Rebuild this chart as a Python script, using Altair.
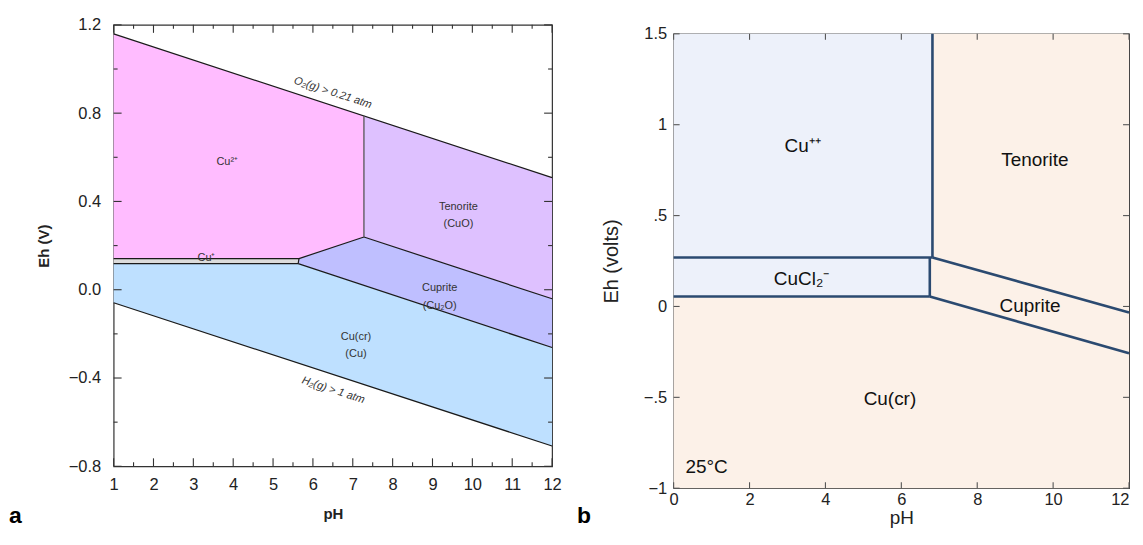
import altair as alt
import pandas as pd

FONT = "Liberation Sans"

# ------------------------------------------------------------------ panel a values
a_ph_domain = [1, 12]
a_eh_domain = [-0.8, 1.2]
a_x_major = [1, 2, 3, 4, 5, 6, 7, 8, 9, 10, 11, 12]
a_x_minor = [1.5, 2.5, 3.5, 4.5, 5.5, 6.5, 7.5, 8.5, 9.5, 10.5, 11.5]
a_y_major = [-0.8, -0.4, 0.0, 0.4, 0.8, 1.2]
a_y_minor = [-0.6, -0.2, 0.2, 0.6, 1.0]

# stability fields: pH breakpoints, upper Eh, lower Eh
a_cu2_ph = [1, 5.65, 7.28]
a_cu2_top = [1.159, 0.884, 0.788]
a_cu2_bot = [0.141, 0.141, 0.239]
a_cup_ph = [1, 5.63, 5.65]
a_cup_top = [0.141, 0.141, 0.141]
a_cup_bot = [0.118, 0.118, 0.138]
a_ten_ph = [7.28, 12]
a_ten_top = [0.788, 0.508]
a_ten_bot = [0.239, -0.041]
a_cpr_ph = [5.63, 5.65, 7.28, 12]
a_cpr_top = [0.119, 0.141, 0.239, -0.041]
a_cpr_bot = [0.118, 0.117, 0.020, -0.262]
a_cu_ph = [1, 5.63, 12]
a_cu_top = [0.118, 0.118, -0.262]
a_cu_bot = [-0.059, -0.333, -0.708]

# boundary lines
a_o2_ph, a_o2_eh = [1, 12], [1.159, 0.508]
a_h2_ph, a_h2_eh = [1, 12], [-0.059, -0.708]
a_b1_ph, a_b1_eh = [7.28, 7.28], [0.788, 0.239]
a_b2_ph, a_b2_eh = [5.65, 7.28], [0.141, 0.239]
a_b3_ph, a_b3_eh = [7.28, 12], [0.239, -0.041]
a_b4_ph, a_b4_eh = [5.63, 12], [0.118, -0.262]
a_b5_ph, a_b5_eh = [1, 5.65], [0.141, 0.141]
a_b6_ph, a_b6_eh = [1, 5.63], [0.118, 0.118]
a_b7_ph, a_b7_eh = [5.63, 5.65], [0.118, 0.141]

a_lab_text = ["Cu²⁺", "Cu⁺", "Tenorite", "(CuO)", "Cuprite", "(Cu₂O)", "Cu(cr)", "(Cu)"]
a_lab_ph = [3.85, 3.33, 9.65, 9.65, 9.18, 9.18, 7.08, 7.08]
a_lab_eh = [0.578, 0.145, 0.375, 0.298, 0.009, -0.072, -0.212, -0.289]
a_gas_text = ["O₂(g) > 0.21 atm", "H₂(g) > 1 atm"]
a_gas_ph = [6.5, 6.51]
a_gas_eh = [0.892, -0.456]

# ------------------------------------------------------------------ panel b values
b_ph_domain = [0, 12]
b_eh_domain = [-1, 1.5]
b_x_major = [0, 2, 4, 6, 8, 10, 12]
b_y_major = [-1, -0.5, 0, 0.5, 1, 1.5]
b_y_labels = ["−1", "−.5", "0", ".5", "1", "1.5"]

b_cupp_ph, b_cupp_top, b_cupp_bot = [0, 6.82], [1.5, 1.5], [0.269, 0.269]
b_cucl_ph, b_cucl_top, b_cucl_bot = [0, 6.75], [0.269, 0.269], [0.055, 0.055]
b_ten_ph, b_ten_top, b_ten_bot = [6.82, 12], [1.5, 1.5], [0.269, -0.033]
b_cpr_ph, b_cpr_top, b_cpr_bot = [6.75, 6.82, 12], [0.269, 0.269, -0.033], [0.055, 0.051, -0.258]
b_cu_ph, b_cu_top, b_cu_bot = [0, 6.75, 12], [0.055, 0.055, -0.258], [-1, -1, -1]

b_l1_ph, b_l1_eh = [0, 6.82], [0.269, 0.269]
b_l2_ph, b_l2_eh = [0, 6.75], [0.055, 0.055]
b_l3_ph, b_l3_eh = [6.82, 6.82], [0.269, 1.5]
b_l4_ph, b_l4_eh = [6.75, 6.75], [0.055, 0.269]
b_l5_ph, b_l5_eh = [6.82, 12], [0.269, -0.033]
b_l6_ph, b_l6_eh = [6.75, 12], [0.055, -0.258]

b_lab_text = ["Cu⁺⁺", "Tenorite", "CuCl₂⁻", "Cuprite", "Cu(cr)"]
b_lab_ph = [3.40, 9.52, 3.37, 9.39, 5.70]
b_lab_eh = [0.883, 0.806, 0.150, 0.0, -0.51]
b_temp_text = ["25°C"]
b_temp_ph = [0.31]
b_temp_eh = [-0.883]

# ------------------------------------------------------------------ styles
A_W, A_H = 440, 443
B_W, B_H = 457, 456
a_fill = {"Cu2+": "#FFBCFF", "Cu+": "#DCDCDC", "Tenorite": "#DEC1FF",
          "Cuprite": "#BFBFFF", "Cu": "#BEE0FF"}
b_fill = {"Cu++": "#EDF1FA", "CuCl2-": "#EDF1FA", "Tenorite": "#FCF1E8",
          "Cuprite": "#FCF1E8", "Cu": "#FCF1E8"}


def regions(items):
    rows = []
    for name, ph, top, bot in items:
        for p, t, b in zip(ph, top, bot):
            rows.append({"region": name, "ph": p, "top": t, "bot": b})
    return pd.DataFrame(rows)


def segments(items):
    rows = []
    for k, (ph, eh) in enumerate(items):
        for i, (p, e) in enumerate(zip(ph, eh)):
            rows.append({"seg": k, "i": i, "ph": p, "eh": e})
    return pd.DataFrame(rows)


def labels(text, ph, eh):
    return pd.DataFrame({"label": text, "ph": ph, "eh": eh})


# ------------------------------------------------------------------ panel a
a_xscale = alt.Scale(domain=a_ph_domain, nice=False, zero=False)
a_yscale = alt.Scale(domain=a_eh_domain, nice=False, zero=False)
a_xaxis = alt.Axis(values=a_x_major, format="d", ticks=False, tickSize=0, domain=False, grid=False,
                   labelFlush=False, labelOverlap=False,
                   labelFont=FONT, labelFontSize=16.5, labelColor="#222", labelPadding=10.5,
                   title="pH", titleFont=FONT, titleFontSize=15, titleFontWeight="bold",
                   titleColor="#222", titlePadding=13)
a_yaxis = alt.Axis(values=a_y_major, format=".1f", ticks=False, tickSize=0, domain=False, grid=False,
                   labelOverlap=False,
                   labelFont=FONT, labelFontSize=16.5, labelColor="#222", labelPadding=13,
                   title="Eh (V)", titleFont=FONT, titleFontSize=15, titleFontWeight="bold",
                   titleColor="#222", titlePadding=17)


def ax(field):
    return alt.X(f"{field}:Q", scale=a_xscale, axis=a_xaxis)


def ay(field):
    return alt.Y(f"{field}:Q", scale=a_yscale, axis=a_yaxis, stack=None)


a_reg = regions([
    ("Cu2+", a_cu2_ph, a_cu2_top, a_cu2_bot),
    ("Cu+", a_cup_ph, a_cup_top, a_cup_bot),
    ("Tenorite", a_ten_ph, a_ten_top, a_ten_bot),
    ("Cuprite", a_cpr_ph, a_cpr_top, a_cpr_bot),
    ("Cu", a_cu_ph, a_cu_top, a_cu_bot),
])
a_areas = alt.Chart(a_reg).mark_area(opacity=1, interpolate="linear").encode(
    x=ax("ph"), y=ay("top"), y2="bot",
    color=alt.Color("region:N", scale=alt.Scale(domain=list(a_fill), range=list(a_fill.values())),
                    legend=None),
)
a_seg = segments([(a_o2_ph, a_o2_eh), (a_h2_ph, a_h2_eh), (a_b2_ph, a_b2_eh),
                  (a_b3_ph, a_b3_eh), (a_b4_ph, a_b4_eh), (a_b5_ph, a_b5_eh), (a_b6_ph, a_b6_eh),
                  (a_b7_ph, a_b7_eh)])
a_lines = alt.Chart(a_seg).mark_line(color="#1a1a1a", strokeWidth=1.2).encode(
    x=ax("ph"), y=ay("eh"), detail="seg:N", order="i:Q")
a_vline = alt.Chart(segments([(a_b1_ph, a_b1_eh)])).mark_line(color="#555555", strokeWidth=1.3).encode(
    x=ax("ph"), y=ay("eh"), detail="seg:N", order="i:Q")


def xticks(vals, size, H):
    d = pd.DataFrame({"ph": vals})
    bot = alt.Chart(d).mark_rule(color="#333", strokeWidth=1.1).encode(
        x=ax("ph"), y=alt.value(H), y2=alt.value(H - size))
    top = alt.Chart(d).mark_rule(color="#333", strokeWidth=1.1).encode(
        x=ax("ph"), y=alt.value(0), y2=alt.value(size))
    return [bot, top]


def yticks(vals, size, W):
    d = pd.DataFrame({"eh": vals})
    left = alt.Chart(d).mark_rule(color="#333", strokeWidth=1.1).encode(
        y=ay("eh"), x=alt.value(0), x2=alt.value(size))
    right = alt.Chart(d).mark_rule(color="#333", strokeWidth=1.1).encode(
        y=ay("eh"), x=alt.value(W), x2=alt.value(W - size))
    return [left, right]


a_ticks = (xticks(a_x_major, 8, A_H) + xticks(a_x_minor, 4, A_H)
           + yticks(a_y_major, 8, A_W) + yticks(a_y_minor, 4, A_W))

a_text = alt.Chart(labels(a_lab_text, a_lab_ph, a_lab_eh)).mark_text(
    font=FONT, fontSize=11, color="#333", align="center", baseline="middle").encode(
    x=ax("ph"), y=ay("eh"), text="label:N")
a_gas = alt.Chart(labels(a_gas_text, a_gas_ph, a_gas_eh)).mark_text(
    font=FONT, fontSize=11, fontStyle="italic", color="#333", angle=18,
    align="center", baseline="middle").encode(
    x=ax("ph"), y=ay("eh"), text="label:N")
a_letter = alt.Chart(pd.DataFrame({"t": ["a"]})).mark_text(
    font=FONT, fontSize=23, fontWeight="bold", color="#000", align="left", baseline="alphabetic").encode(
    x=alt.value(-105), y=alt.value(500), text="t:N")

panel_a = alt.layer(a_areas, a_lines, a_vline, *a_ticks, a_text, a_gas, a_letter).properties(
    width=A_W, height=A_H)

# ------------------------------------------------------------------ panel b
b_xscale = alt.Scale(domain=b_ph_domain, nice=False, zero=False)
b_yscale = alt.Scale(domain=b_eh_domain, nice=False, zero=False)
b_label_expr = ("[" + ",".join(f"'{s}'" for s in b_y_labels) + "][indexof(["
                + ",".join(str(v) for v in b_y_major) + "], datum.value)]")
b_xaxis = alt.Axis(values=b_x_major, format="d", ticks=False, tickSize=0, domain=False, grid=False,
                   labelFlush=False, labelOverlap=False,
                   labelAlign={"condition": {"test": "datum.value >= 12", "value": "right"},
                               "value": "center"},
                   labelFont=FONT, labelFontSize=16.5, labelColor="#222", labelPadding=3.5,
                   title="pH", titleFont=FONT, titleFontSize=19, titleFontWeight="normal",
                   titleColor="#222", titlePadding=0)
b_yaxis = alt.Axis(values=b_y_major, labelExpr=b_label_expr, ticks=False, tickSize=0, domain=False,
                   grid=False, labelOverlap=False,
                   labelFont=FONT, labelFontSize=16.5, labelColor="#222", labelPadding=7,
                   title="Eh (volts)", titleFont=FONT, titleFontSize=20, titleFontWeight="normal",
                   titleColor="#222", titlePadding=22)


def bx(field):
    return alt.X(f"{field}:Q", scale=b_xscale, axis=b_xaxis)


def by(field):
    return alt.Y(f"{field}:Q", scale=b_yscale, axis=b_yaxis, stack=None)


b_reg = regions([
    ("Cu++", b_cupp_ph, b_cupp_top, b_cupp_bot),
    ("CuCl2-", b_cucl_ph, b_cucl_top, b_cucl_bot),
    ("Tenorite", b_ten_ph, b_ten_top, b_ten_bot),
    ("Cuprite", b_cpr_ph, b_cpr_top, b_cpr_bot),
    ("Cu", b_cu_ph, b_cu_top, b_cu_bot),
])
b_areas = alt.Chart(b_reg).mark_area(opacity=1, interpolate="linear").encode(
    x=bx("ph"), y=by("top"), y2="bot",
    color=alt.Color("region:N", scale=alt.Scale(domain=list(b_fill), range=list(b_fill.values())),
                    legend=None),
)
b_seg = segments([(b_l1_ph, b_l1_eh), (b_l2_ph, b_l2_eh), (b_l3_ph, b_l3_eh),
                  (b_l4_ph, b_l4_eh), (b_l5_ph, b_l5_eh), (b_l6_ph, b_l6_eh)])
b_lines = alt.Chart(b_seg).mark_line(color="#2B4A70", strokeWidth=2.6).encode(
    x=bx("ph"), y=by("eh"), detail="seg:N", order="i:Q")


def bxticks(vals, size, H):
    d = pd.DataFrame({"ph": vals})
    bot = alt.Chart(d).mark_rule(color="#555", strokeWidth=1.1).encode(
        x=bx("ph"), y=alt.value(H), y2=alt.value(H - size))
    top = alt.Chart(d).mark_rule(color="#555", strokeWidth=1.1).encode(
        x=bx("ph"), y=alt.value(0), y2=alt.value(size))
    return [bot, top]


def byticks(vals, size, W):
    d = pd.DataFrame({"eh": vals})
    left = alt.Chart(d).mark_rule(color="#555", strokeWidth=1.1).encode(
        y=by("eh"), x=alt.value(0), x2=alt.value(size))
    right = alt.Chart(d).mark_rule(color="#555", strokeWidth=1.1).encode(
        y=by("eh"), x=alt.value(W), x2=alt.value(W - size))
    return [left, right]


b_ticks = bxticks(b_x_major, 6, B_H) + byticks(b_y_major, 6, B_W)

b_text = alt.Chart(labels(b_lab_text, b_lab_ph, b_lab_eh)).mark_text(
    font=FONT, fontSize=19, color="#111", align="center", baseline="middle").encode(
    x=bx("ph"), y=by("eh"), text="label:N")
b_temp = alt.Chart(labels(b_temp_text, b_temp_ph, b_temp_eh)).mark_text(
    font=FONT, fontSize=19, color="#111", align="left", baseline="middle").encode(
    x=bx("ph"), y=by("eh"), text="label:N")
b_letter = alt.Chart(pd.DataFrame({"t": ["b"]})).mark_text(
    font=FONT, fontSize=23, fontWeight="bold", color="#000", align="left", baseline="alphabetic").encode(
    x=alt.value(-97), y=alt.value(491), text="t:N")

panel_b = alt.layer(b_areas, b_lines, *b_ticks, b_text, b_temp, b_letter).properties(
    width=B_W, height=B_H)


# invisible spacers: panel b sits a little lower than panel a
def spacer(h):
    return alt.Chart(pd.DataFrame({"z": [0]})).mark_rule(strokeOpacity=0).encode(
        x=alt.value(0), x2=alt.value(1), y=alt.value(0)
    ).properties(width=1, height=h, view=alt.ViewBackground(strokeOpacity=0))


left = alt.vconcat(spacer(1), panel_a, spacing=0)
right = alt.vconcat(spacer(10), panel_b, spacing=0)

chart = alt.hconcat(left, right, spacing=14).resolve_scale(color="independent").properties(
    padding={"left": 0, "top": 6, "right": 0, "bottom": 0}
).configure_view(stroke="#333", strokeWidth=1.2)

chart.save("out.html", embed_options={"renderer": "svg", "actions": False})
